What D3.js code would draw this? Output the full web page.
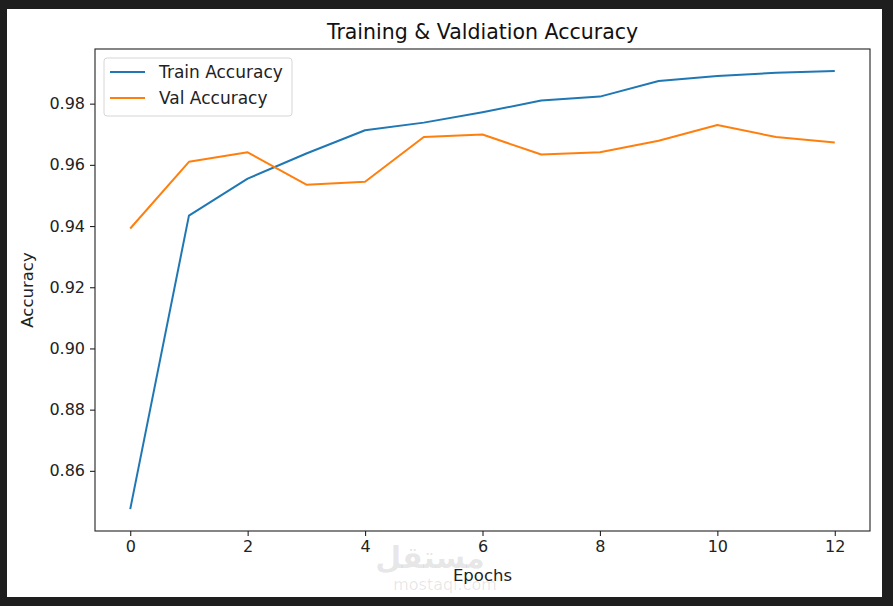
<!DOCTYPE html>
<html>
<head>
<meta charset="utf-8">
<script src="https://cdn.jsdelivr.net/npm/d3@7"></script>
<style>
    body { margin: 0; background: #1e1e1e; }
    svg { display: block; font-family: "DejaVu Sans", sans-serif; }
</style>
</head>
<body>
<svg id="chart" width="893" height="606"></svg>
<script>
// data
var epochs = [0, 1, 2, 3, 4, 5, 6, 7, 8, 9, 10, 11, 12];
var trainAcc = [0.8475, 0.9434, 0.9555, 0.9637, 0.9713, 0.9738, 0.9772, 0.9810, 0.9823, 0.9874, 0.9890, 0.9901, 0.9907];
var valAcc = [0.9392, 0.9610, 0.9641, 0.9535, 0.9545, 0.9691, 0.9699, 0.9634, 0.9641, 0.9679, 0.9730, 0.9691, 0.9673];
var xTicks = [0, 2, 4, 6, 8, 10, 12];
var yTicks = [0.86, 0.88, 0.90, 0.92, 0.94, 0.96, 0.98];
var seriesNames = ["Train Accuracy", "Val Accuracy"];
var colors = ["#1f77b4", "#ff7f0e"];

(function () {
    var svg = d3.select("#chart");

    // white page inside the dark frame
    svg.append("rect")
        .attr("x", 7).attr("y", 9)
        .attr("width", 875).attr("height", 588)
        .attr("fill", "#fff");

    var margin = {top: 49, right: 23, bottom: 75, left: 95},
        width = 893 - margin.left - margin.right,
        height = 606 - margin.top - margin.bottom;

    var x = d3.scaleLinear().domain([-0.6, 12.6]).range([0, width]);
    var lo = d3.min(trainAcc.concat(valAcc)), hi = d3.max(trainAcc.concat(valAcc));
    var pad = (hi - lo) * 0.05;
    var y = d3.scaleLinear().domain([lo - pad, hi + pad]).range([height, 0]);

    var g = svg.append("g")
        .attr("transform", "translate(" + margin.left + "," + margin.top + ")");

    var xAxis = g.append("g")
        .attr("transform", "translate(0," + height + ")")
        .call(d3.axisBottom(x).tickValues(xTicks).tickSize(5).tickPadding(5).tickFormat(d3.format("d")));

    var yAxis = g.append("g")
        .call(d3.axisLeft(y).tickValues(yTicks).tickSize(5).tickPadding(5).tickFormat(d3.format(".2f")));

    [xAxis, yAxis].forEach(function (a) {
        a.select(".domain").remove();
        a.selectAll("line").attr("stroke", "#222").attr("stroke-width", 1.1);
        a.selectAll("text").attr("fill", "#222").style("font-size", "16px")
            .style("font-family", "DejaVu Sans, sans-serif");
    });

    // lines
    var series = [trainAcc, valAcc];
    var line = d3.line()
        .x(function (d, i) { return x(epochs[i]); })
        .y(function (d) { return y(d); });

    series.forEach(function (s, k) {
        g.append("path")
            .datum(s)
            .attr("fill", "none")
            .attr("stroke", colors[k])
            .attr("stroke-width", 2)
            .attr("stroke-linejoin", "round")
            .attr("d", line);
    });

    // frame
    g.append("rect")
        .attr("width", width).attr("height", height)
        .attr("fill", "none").attr("stroke", "#222").attr("stroke-width", 1.1);

    // legend
    var leg = g.append("g").attr("transform", "translate(9,9)");
    leg.append("rect")
        .attr("width", 188).attr("height", 58).attr("rx", 3)
        .attr("fill", "#fff").attr("fill-opacity", 0.8)
        .attr("stroke", "#d6d6d6");
    seriesNames.forEach(function (name, k) {
        var yy = 14 + k * 26;
        leg.append("line")
            .attr("x1", 6).attr("x2", 41).attr("y1", yy).attr("y2", yy)
            .attr("stroke", colors[k]).attr("stroke-width", 2);
        leg.append("text")
            .attr("x", 55).attr("y", yy + 6)
            .style("font-size", "17px").attr("fill", "#222")
            .text(name);
    });

    // title and axis labels
    svg.append("text")
        .attr("x", margin.left + width / 2).attr("y", 39)
        .attr("text-anchor", "middle")
        .style("font-size", "20.5px").attr("fill", "#111")
        .text("Training & Valdiation Accuracy");

    svg.append("text")
        .attr("x", margin.left + width / 2).attr("y", 581)
        .attr("text-anchor", "middle")
        .style("font-size", "16.5px").attr("fill", "#222")
        .text("Epochs");

    svg.append("text")
        .attr("transform", "rotate(-90)")
        .attr("x", -(margin.top + height / 2)).attr("y", 33)
        .attr("text-anchor", "middle")
        .style("font-size", "16.5px").attr("fill", "#222")
        .text("Accuracy");

    // faint watermark
    svg.append("text")
        .attr("x", 430).attr("y", 568)
        .attr("text-anchor", "middle")
        .style("font-size", "30px").style("font-weight", "bold")
        .attr("fill", "#000").attr("fill-opacity", 0.1)
        .text("مستقل");
    svg.append("text")
        .attr("x", 445).attr("y", 590)
        .attr("text-anchor", "middle")
        .style("font-size", "16px")
        .attr("fill", "#000").attr("fill-opacity", 0.1)
        .text("mostaql.com");
})();
</script>
</body>
</html>
